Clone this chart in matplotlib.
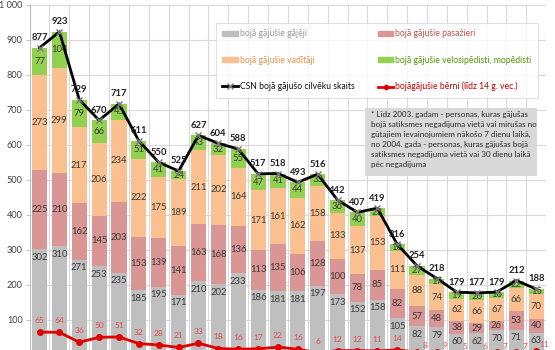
import numpy as np
import matplotlib.pyplot as plt
from matplotlib.lines import Line2D
from matplotlib.patches import Patch, Rectangle

plt.rcParams['font.family'] = ['Lato', 'DejaVu Sans']

# values, one entry per year (1990-2015)
pedestrians = [302, 310, 271, 253, 235, 185, 195, 171, 210, 202, 233, 186, 181,
               181, 197, 173, 152, 158, 105, 82, 79, 60, 62, 70, 71, 63]
passengers = [225, 210, 162, 145, 203, 153, 139, 141, 163, 168, 136, 113, 135,
              106, 128, 100, 78, 85, 82, 57, 48, 38, 29, 26, 53, 40]
drivers = [273, 299, 217, 206, 234, 222, 175, 189, 211, 202, 164, 171, 161,
           162, 158, 133, 137, 153, 111, 88, 74, 62, 66, 67, 66, 70]
cyclists = [77, 104, 79, 66, 45, 51, 41, 24, 43, 32, 55, 47, 41,
            44, 33, 36, 40, 23, 18, 27, 17, 19, 20, 16, 22, 15]
csn_total = [877, 923, 729, 670, 717, 611, 550, 525, 627, 604, 588, 517, 518,
             493, 516, 442, 407, 419, 316, 254, 218, 179, 177, 179, 212, 188]
children = [65, 64, 36, 50, 51, 32, 28, 21, 33, 18, 16, 17, 22,
            16, 6, 12, 12, 11, 14, 8, 9, 5, 6, 7, 7, 11]

names = ['bojā gājušie gājēji', 'bojā gājušie pasažieri', 'bojā gājušie vadītāji',
         'bojā gājušie velosipēdisti, mopēdisti', 'CSN bojā gājušo cilvēku skaits',
         'bojāgājušie bērni (līdz 14 g. vec.)']
note = ('* Līdz 2003. gadam - personas, kuras gājušas\n'
        'bojā satiksmes negadījuma vietā vai mirušas no\n'
        'gūtajiem ievainojumiem nākošo 7 dienu laikā,\n'
        'no 2004. gada - personas, kuras gājušas bojā\n'
        'satiksmes negadījuma vietā vai 30 dienu laikā\n'
        'pēc negadījuma')

c_grey = '#bfbfbf'
c_pink = '#d99694'
c_orange = '#fac090'
c_green = '#92d050'
c_red = '#e00000'
lbl_col = '#3a3a3a'

W, H = 555, 350
fig = plt.figure(figsize=(W / 100, H / 100), dpi=100)
ax = fig.add_axes([29.6 / W, -4.8 / H, (546.2 - 29.6) / W, 350 / H])

x = np.arange(len(csn_total))
ped = np.array(pedestrians)
pas = np.array(passengers)
drv = np.array(drivers)
cyc = np.array(cyclists)

bw = 0.76
ax.bar(x, ped, bw, color=c_grey, zorder=2)
ax.bar(x, pas, bw, bottom=ped, color=c_pink, zorder=2)
ax.bar(x, drv, bw, bottom=ped + pas, color=c_orange, zorder=2)
ax.bar(x, cyc, bw, bottom=ped + pas + drv, color=c_green, zorder=2)

ax.plot(x, csn_total, color='black', lw=2, marker='x', ms=4.5, mec='#777777',
        mew=1, zorder=4)
ax.plot(x, children, color=c_red, lw=2, marker='o', ms=4, zorder=4)

fs = 6.8
for i in x:
    ax.annotate(str(ped[i]), (i, ped[i]), xytext=(0, -2.5), textcoords='offset points',
                ha='center', va='top', fontsize=fs, color=lbl_col, zorder=5)
    ax.text(i, ped[i] + pas[i] / 2, str(pas[i]), ha='center', va='center',
            fontsize=fs, color=lbl_col, zorder=5)
    ax.text(i, ped[i] + pas[i] + drv[i] / 2, str(drv[i]), ha='center', va='center',
            fontsize=fs, color=lbl_col, zorder=5)
    ax.text(i, ped[i] + pas[i] + drv[i] + cyc[i] / 2, str(cyc[i]), ha='center',
            va='center', fontsize=fs, color=lbl_col, zorder=3)
    ax.annotate(str(csn_total[i]), (i, csn_total[i]), xytext=(0, 4), textcoords='offset points',
                ha='center', va='bottom', fontsize=fs, fontweight='bold', color='#222222',
                zorder=5)
    # the last few child labels sit to the right of the point, like in the original
    if i < 19:
        off = (0, 8.3)
    else:
        off = (6, 4.5)
    ax.annotate(str(children[i]), (i, children[i]), xytext=off, textcoords='offset points',
                ha='center', va='center', fontsize=6.0, color='#e05050', zorder=5)

ax.set_xlim(-0.5, len(x) - 0.5)
ax.set_ylim(0, 1000)
ax.set_yticks(range(100, 1001, 100))
ax.set_yticklabels(['{:,}'.format(v).replace(',', ' ') for v in range(100, 1001, 100)])
ax.set_xticks([])
ax.set_xticks(np.arange(-0.5, len(x), 1), minor=True)
ax.grid(axis='y', color='#d9d9d9', lw=0.8, zorder=0)
ax.grid(axis='x', which='minor', color='#d9d9d9', lw=0.8, zorder=0)
ax.tick_params(axis='y', labelsize=6.6, colors='#404040', length=3, width=0.6, pad=2)
ax.tick_params(axis='y', color='#bfbfbf')
ax.tick_params(axis='x', which='minor', length=0)
for s in ['top', 'right', 'bottom']:
    ax.spines[s].set_visible(False)
ax.spines['left'].set_color('#bfbfbf')

handles = [Patch(color=c_grey), Patch(color=c_orange),
           Line2D([], [], color='black', lw=2, marker='x', ms=4, mec='#777777'),
           Patch(color=c_pink), Patch(color=c_green),
           Line2D([], [], color=c_red, lw=2, marker='o', ms=3)]
labels = [names[0], names[2], names[4], names[1], names[3], names[5]]
leg = ax.legend(handles, labels, ncol=2, loc='upper left', mode='expand',
                bbox_to_anchor=(216 / W, 1 - 100 / H, 322 / W, 77 / H),
                bbox_transform=fig.transFigure,
                fontsize=6.2, frameon=True, fancybox=False, labelspacing=2.0,
                handlelength=1.75, handleheight=0.55, handletextpad=0.25,
                columnspacing=1.0, borderpad=0.75, borderaxespad=0)
leg.get_frame().set_edgecolor('#d9d9d9')
leg.get_frame().set_linewidth(0.8)
leg.set_zorder(6)
text_cols = ['#9a9a9a', '#e3924a', '#111111', '#c0504d', '#4e9a06', '#c00000']
for t, c in zip(leg.get_texts(), text_cols):
    t.set_color(c)

fig.patches.append(Rectangle((365 / W, 1 - 176 / H), 172 / W, 68 / H,
                             transform=fig.transFigure, facecolor='#d9d9d9',
                             edgecolor='none', zorder=7))
fig.text(371 / W, 1 - 111 / H, note, ha='left', va='top', fontsize=5.8,
         linespacing=1.5, color='#262626', zorder=8)

fig.savefig('out.png', dpi=100)
